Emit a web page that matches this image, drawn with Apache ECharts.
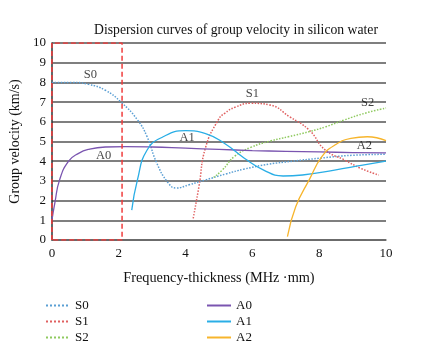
<!DOCTYPE html>
<html>
<head>
<meta charset="utf-8">
<script src="https://cdn.jsdelivr.net/npm/echarts@6/dist/echarts.min.js"></script>
<style>
  html, body { margin: 0; padding: 0; background: #fff; }
  #chart { width: 422px; height: 351px; }
</style>
</head>
<body>
<div id="chart"></div>
<script>
// 曲线数据 (频厚积 MHz·mm, 群速度 km/s)
const s0 = [[0, 8.0], [0.6, 8.0], [1.1, 7.9], [1.6, 7.6], [2.07, 7.0], [2.56, 6.1], [2.85, 5.24], [3.14, 3.9], [3.48, 2.9], [3.72, 2.64], [4.1, 2.8], [4.6, 3.05], [5.2, 3.35], [5.76, 3.6], [6.5, 3.85], [7.2, 4.0], [8.0, 4.15], [9.0, 4.3], [10, 4.35]];
const s1 = [[4.23, 1.1], [4.4, 2.7], [4.6, 4.7], [4.98, 6.1], [5.17, 6.43], [5.5, 6.75], [5.95, 6.94], [6.53, 6.85], [7.11, 6.26], [7.7, 5.58], [8.18, 4.57], [8.76, 4.06], [9.24, 3.64], [9.78, 3.3]];
const s2 = [[4.84, 3.18], [5.1, 3.55], [5.47, 4.25], [5.95, 4.7], [6.53, 5.02], [7.1, 5.25], [7.7, 5.5], [8.2, 5.75], [8.76, 6.1], [9.4, 6.45], [10, 6.7]];
const a0 = [[0, 1.0], [0.09, 1.9], [0.23, 3.05], [0.5, 4.0], [0.8, 4.4], [1.1, 4.6], [1.6, 4.72], [2.2, 4.74], [3.0, 4.72], [4.0, 4.66], [5.0, 4.6], [6.0, 4.54], [7.0, 4.5], [8.0, 4.47], [9.0, 4.44], [10, 4.42]];
const a1 = [[2.39, 1.52], [2.56, 3.05], [2.85, 4.57], [3.33, 5.24], [4.0, 5.55], [4.6, 5.4], [5.17, 4.9], [5.76, 4.15], [6.34, 3.55], [6.92, 3.25], [7.5, 3.3], [8.46, 3.55], [9.3, 3.8], [10, 4.0]];
const a2 = [[7.05, 0.17], [7.3, 1.7], [7.7, 3.05], [8.08, 4.23], [8.47, 4.82], [8.95, 5.16], [9.44, 5.24], [10, 5.04]];

// 红色虚线框
const box = [[0, 0], [0, 10], [2.1, 10], [2.1, 0], [0, 0]];

// 曲线标签
const labelNames = ['S0', 'A0', 'A1', 'S1', 'S2', 'A2'];
const labelPos = [[1.15, 8.4], [1.55, 4.3], [4.05, 5.2], [6.0, 7.45], [9.45, 6.95], [9.35, 4.8]];

const serif = 'Liberation Serif, DejaVu Serif, serif';

const curve = (name, data, color, type, width) => ({
  name: name,
  type: 'line',
  data: data,
  smooth: true,
  showSymbol: false,
  symbol: 'none',
  lineStyle: { color: color, type: type, width: width },
  itemStyle: { color: color }
});

const legendBase = {
  orient: 'vertical',
  top: 294,
  height: 56,
  itemWidth: 24,
  itemHeight: 14,
  itemGap: 3,
  itemStyle: { opacity: 0 },
  textStyle: { fontFamily: serif, fontSize: 13, color: '#111' }
};

const myChart = echarts.init(document.getElementById('chart'));
const option = {
  animation: false,
  title: {
    text: 'Dispersion curves of group velocity in silicon water',
    left: 231,
    textAlign: 'center',
    top: 18,
    textStyle: { fontFamily: serif, fontSize: 13.7, fontWeight: 'normal', color: '#111' }
  },
  grid: { left: 42, right: 36, top: 43, bottom: 111 },
  legend: [
    Object.assign({ id: 'ls', data: ['S0', 'S1', 'S2'], left: 40 }, legendBase),
    Object.assign({ id: 'la', data: ['A0', 'A1', 'A2'], left: 201 }, legendBase)
  ],
  xAxis: {
    type: 'value',
    min: 0,
    max: 10,
    interval: 2,
    name: 'Frequency-thickness (MHz ·mm)',
    nameLocation: 'middle',
    nameGap: 31,
    nameTextStyle: { fontFamily: serif, fontSize: 14.3, color: '#111' },
    axisLine: { lineStyle: { color: '#666', width: 1.5 } },
    axisTick: { show: false },
    axisLabel: { fontFamily: serif, fontSize: 13, color: '#111', margin: 7 },
    splitLine: { show: false }
  },
  yAxis: {
    type: 'value',
    min: 0,
    max: 10,
    interval: 1,
    name: 'Group velocity (km/s)',
    nameLocation: 'middle',
    nameGap: 27,
    nameTextStyle: { fontFamily: serif, fontSize: 14, color: '#111' },
    axisLine: { show: true, lineStyle: { color: '#333', width: 1.5 } },
    axisTick: { show: false },
    axisLabel: { fontFamily: serif, fontSize: 13, color: '#111', margin: 6 },
    splitLine: { lineStyle: { color: '#555', width: 1.5 } }
  },
  series: [
    curve('S0', s0, '#5a9fd4', 'dotted', 1.5),
    curve('S1', s1, '#e06060', 'dotted', 1.5),
    curve('S2', s2, '#8fca5f', 'dotted', 1.5),
    curve('A0', a0, '#7a55b0', 'solid', 1.3),
    curve('A1', a1, '#2aaee6', 'solid', 1.3),
    curve('A2', a2, '#f7b52c', 'solid', 1.3),
    {
      name: 'box',
      type: 'line',
      data: box,
      showSymbol: false,
      symbol: 'none',
      silent: true,
      lineStyle: { color: '#f03c3c', type: [5, 3], width: 1.5 },
      z: 3
    },
    {
      name: 'labels',
      type: 'scatter',
      symbolSize: 0,
      silent: true,
      data: labelNames.map((n, i) => ({ name: n, value: labelPos[i] })),
      label: {
        show: true,
        position: 'inside',
        formatter: '{b}',
        fontFamily: serif,
        fontSize: 12.5,
        color: '#111'
      }
    }
  ]
};
myChart.setOption(option);
</script>
</body>
</html>
